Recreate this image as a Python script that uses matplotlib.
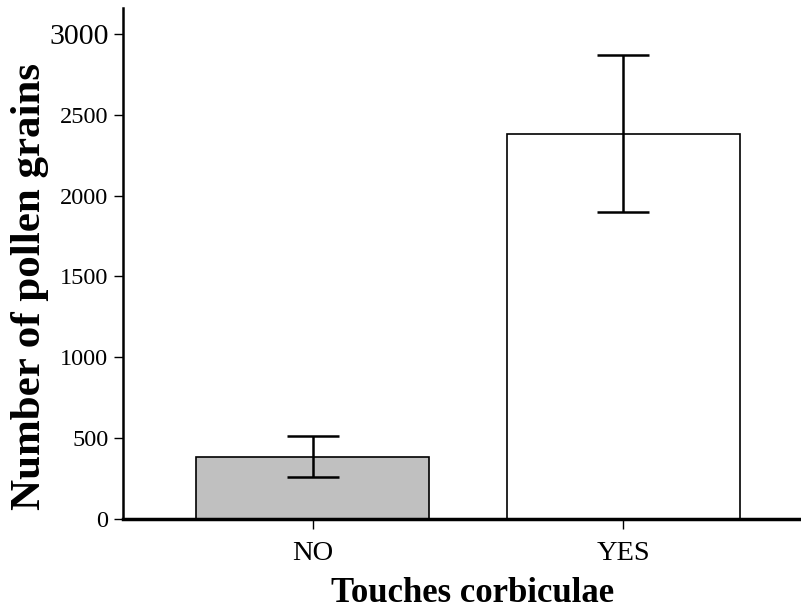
import numpy as np
import matplotlib
matplotlib.use("Agg")
import matplotlib.pyplot as plt

# data
groups = ["NO", "YES"]
means = [383, 2384]
err_low = [259, 1901]
err_high = [511, 2872]
yticks = [0, 500, 1000, 1500, 2000, 2500, 3000]

plt.rcParams["font.family"] = ["Liberation Serif", "DejaVu Serif"]

fig = plt.figure(figsize=(8.01, 6.09), dpi=100)
ax = fig.add_axes([0.1536, 0.1486, 0.8464, 0.8383])

x = np.arange(len(groups))
means = np.array(means)
yerr = np.array([means - np.array(err_low), np.array(err_high) - means])

ax.bar(x, means, width=0.75, color=["#c0c0c0", "white"],
       edgecolor="black", linewidth=1.2, zorder=2)
ax.errorbar(x, means, yerr=yerr, fmt="none", ecolor="black",
            elinewidth=1.8, capsize=18.4, capthick=1.8, zorder=3)

ax.set_xlim(-0.611, 1.572)
ax.set_ylim(0, 3163)
ax.set_xticks(x)
ax.set_xticklabels(groups, fontsize=20.5)
ax.set_yticks(yticks)
ax.set_yticklabels([str(v) for v in yticks], fontsize=17.5)
ax.get_yticklabels()[-1].set_fontsize(21.5)

ax.tick_params(axis="y", direction="out", length=6.5, width=1, pad=4)
ax.tick_params(axis="x", direction="out", length=7, width=1, pad=9)

for side in ["top", "right"]:
    ax.spines[side].set_visible(False)
ax.spines["left"].set_linewidth(1.8)
ax.spines["bottom"].set_linewidth(2.5)

fig.text(0.59, 0.026, "Touches corbiculae", fontsize=25,
         fontweight="bold", ha="center", va="center")
fig.text(0.038, 0.53, "Number of pollen grains", fontsize=31,
         fontweight="bold", ha="center", va="center", rotation=90)

plt.savefig("out.png", dpi=100)
